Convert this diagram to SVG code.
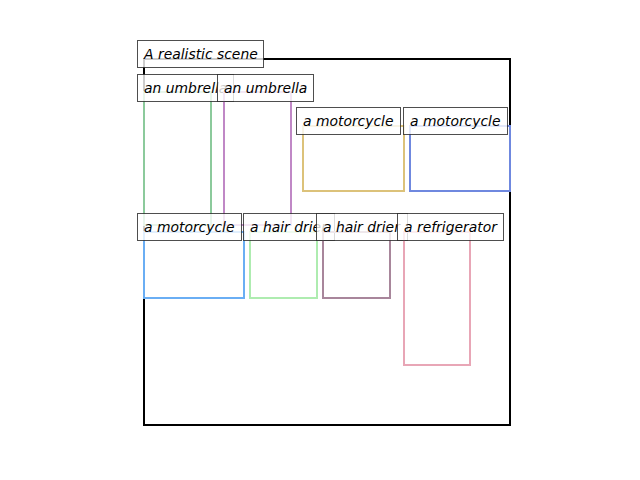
<svg xmlns="http://www.w3.org/2000/svg" width="640" height="480" viewBox="0 0 640 480">
<style>
.bb{fill:none;stroke-width:2}
.lb{fill:#fff;fill-opacity:0.8;stroke:#222;stroke-opacity:0.8;stroke-width:1}
.lt{font-family:"DejaVu Sans",sans-serif;font-style:italic;font-size:13.9px;fill:#000}
</style>
<rect width="640" height="480" fill="#fff"/>
<g id="scene">
<rect x="144" y="59" width="366" height="366" fill="none" stroke="#000" stroke-width="2"/>
<rect class="lb" x="137.5" y="40.5" width="126" height="27"/>
<text class="lt" x="144" y="59">A realistic scene</text>
</g>
<g id="umbrella1">
<rect class="bb" stroke="#8cca9c" x="144" y="92" width="67" height="133"/>
<rect class="lb" x="137.5" y="74.5" width="96" height="27"/>
<text class="lt" x="144" y="93">an umbrella</text>
</g>
<g id="umbrella2">
<rect class="bb" stroke="#c088c6" x="224" y="92" width="67" height="133"/>
<rect class="lb" x="217.5" y="74.5" width="96" height="27"/>
<text class="lt" x="224" y="93">an umbrella</text>
</g>
<g id="motorcycle1">
<rect class="bb" stroke="#dcc27a" x="303" y="126" width="101" height="65"/>
<rect class="lb" x="296.5" y="107.5" width="104" height="27"/>
<text class="lt" x="303" y="126">a motorcycle</text>
</g>
<g id="motorcycle2">
<rect class="bb" stroke="#6f88df" x="410" y="126" width="100" height="65"/>
<rect class="lb" x="403.5" y="107.5" width="104" height="27"/>
<text class="lt" x="410" y="126">a motorcycle</text>
</g>
<g id="motorcycle3">
<rect class="bb" stroke="#6aaef4" x="144" y="232" width="100" height="66"/>
<rect class="lb" x="137.5" y="213.5" width="104" height="27"/>
<text class="lt" x="144" y="232">a motorcycle</text>
</g>
<g id="hairdrier1">
<rect class="bb" stroke="#aeecb0" x="250" y="232" width="67" height="66"/>
<rect class="lb" x="243.5" y="213.5" width="91" height="27"/>
<text class="lt" x="250" y="232">a hair drier</text>
</g>
<g id="hairdrier2">
<rect class="bb" stroke="#a8869b" x="323" y="232" width="67" height="66"/>
<rect class="lb" x="316.5" y="213.5" width="91" height="27"/>
<text class="lt" x="323" y="232">a hair drier</text>
</g>
<g id="refrigerator">
<rect class="bb" stroke="#e8a6b6" x="404" y="232" width="66" height="133"/>
<rect class="lb" x="397.5" y="213.5" width="106" height="27"/>
<text class="lt" x="404" y="232">a refrigerator</text>
</g>
<g id="connectors"/>
</svg>
